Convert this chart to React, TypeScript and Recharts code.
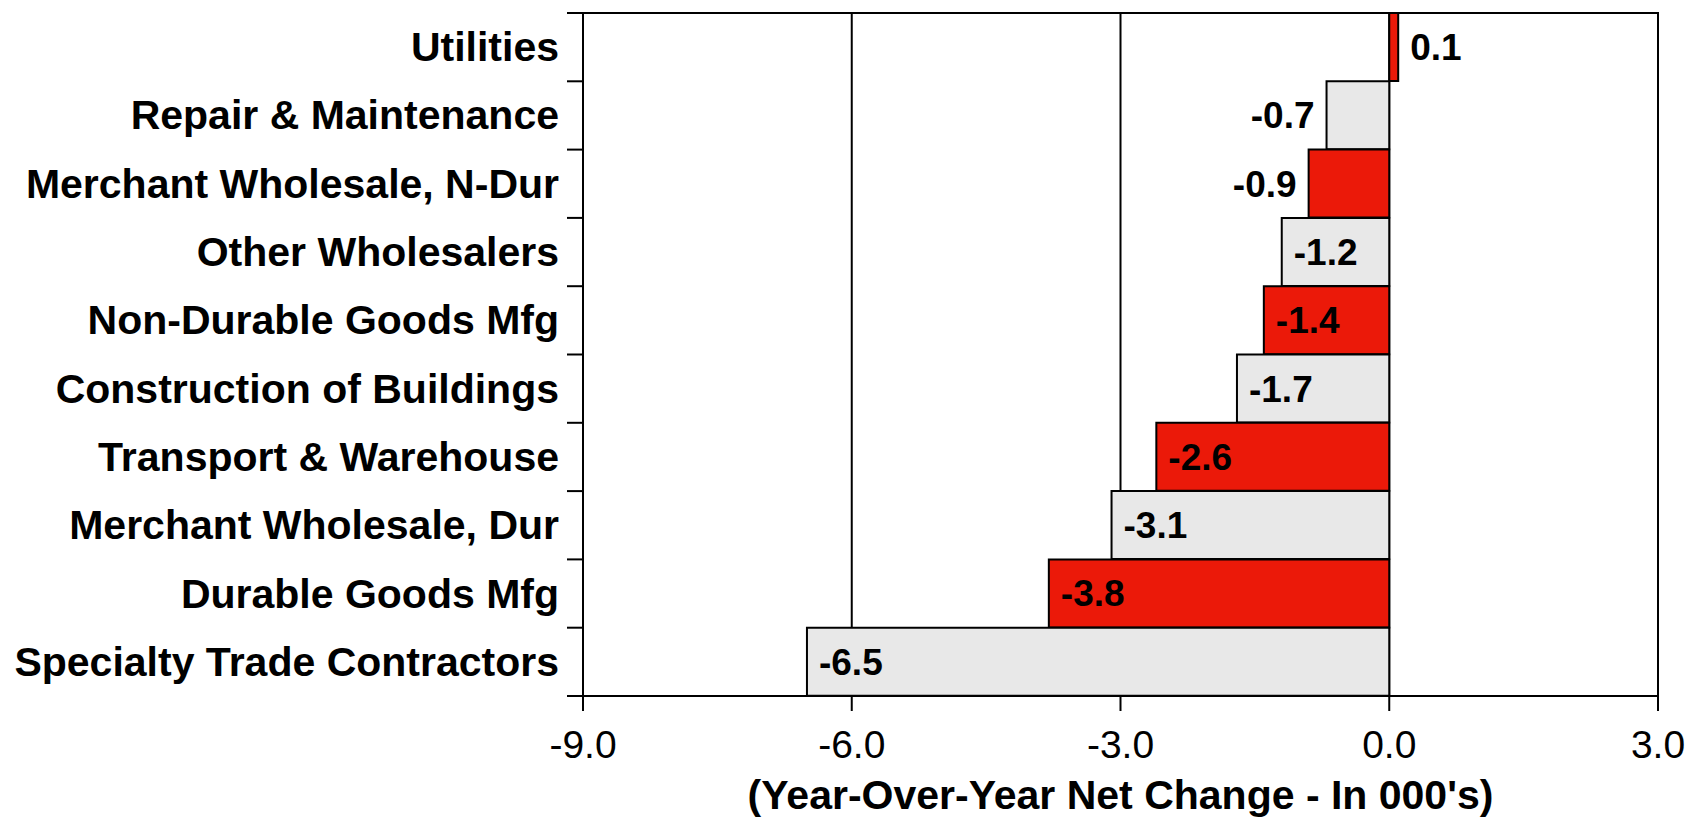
import React from "react";
import {
  BarChart,
  Bar,
  Cell,
  XAxis,
  YAxis,
  CartesianGrid,
  ReferenceArea,
  LabelList,
  Label,
} from "recharts";

const categories = [
  "Utilities",
  "Repair & Maintenance",
  "Merchant Wholesale, N-Dur",
  "Other Wholesalers",
  "Non-Durable Goods Mfg",
  "Construction of Buildings",
  "Transport & Warehouse",
  "Merchant Wholesale, Dur",
  "Durable Goods Mfg",
  "Specialty Trade Contractors",
];

const values = [0.1, -0.7, -0.9, -1.2, -1.4, -1.7, -2.6, -3.1, -3.8, -6.5];

const xTicks = [-9, -6, -3, 0, 3];

const axisTitle = "(Year-Over-Year Net Change - In 000's)";

const RED = "#EB1909";
const GREY = "#E8E8E8";
const FONT = "'Liberation Sans', Arial, sans-serif";

const W = 1693;
const H = 820;
const M = { top: 13, right: 35, bottom: 0, left: 0 };
const Y_AXIS_W = 583;
const X_AXIS_H = 124;
const BAND = (H - M.top - M.bottom - X_AXIS_H) / categories.length;

const data = categories.map((name, i) => ({ name, value: values[i] }));

function CategoryTick(props: any) {
  const { x, y, payload, index } = props;
  const half = BAND / 2;
  return (
    <g>
      <line x1={x - 16} x2={x} y1={y - half} y2={y - half} stroke="#000" strokeWidth={2} />
      {index === categories.length - 1 && (
        <line x1={x - 16} x2={x} y1={y + half} y2={y + half} stroke="#000" strokeWidth={2} />
      )}
      <text
        x={x - 24}
        y={y + 14}
        textAnchor="end"
        fontFamily={FONT}
        fontWeight="bold"
        fontSize={41}
        fill="#000"
      >
        {payload.value}
      </text>
    </g>
  );
}

function ValueLabel(props: any) {
  const { x, y, width, height, value } = props;
  const left = Math.min(x, x + width);
  const right = Math.max(x, x + width);
  const cy = y + height / 2 + 13;
  let tx = left + 12;
  let anchor: "start" | "end" = "start";
  if (value >= 0) {
    tx = right + 12;
  } else if (Math.abs(value) < 1) {
    tx = left - 12;
    anchor = "end";
  }
  return (
    <text
      x={tx}
      y={cy}
      textAnchor={anchor}
      fontFamily={FONT}
      fontWeight="bold"
      fontSize={37}
      fill="#000"
    >
      {value.toFixed(1)}
    </text>
  );
}

export default function App() {
  return (
    <div style={{ position: "absolute", left: 0, top: 0, background: "#fff" }}>
      <BarChart
        width={W}
        height={H}
        data={data}
        layout="vertical"
        margin={M}
        barCategoryGap={0}
      >
        <CartesianGrid horizontal={false} stroke="#000" strokeWidth={2} />
        <XAxis
          type="number"
          domain={[-9, 3]}
          ticks={xTicks}
          allowDataOverflow
          height={X_AXIS_H}
          tickFormatter={(v: number) => v.toFixed(1)}
          tickSize={15}
          tickMargin={19}
          axisLine={{ stroke: "#000", strokeWidth: 2 }}
          tickLine={{ stroke: "#000", strokeWidth: 2 }}
          tick={{ fill: "#000", fontSize: 39, fontFamily: FONT }}
        >
          <Label
            content={(p: any) => {
              const vb = p.viewBox;
              return (
                <text
                  x={vb.x + vb.width / 2}
                  y={vb.y + vb.height - 11}
                  textAnchor="middle"
                  fontFamily={FONT}
                  fontWeight="bold"
                  fontSize={41}
                  fill="#000"
                >
                  {axisTitle}
                </text>
              );
            }}
          />
        </XAxis>
        <YAxis
          type="category"
          dataKey="name"
          width={Y_AXIS_W}
          axisLine={{ stroke: "#000", strokeWidth: 2 }}
          tickLine={false}
          tickSize={0}
          tickMargin={0}
          interval={0}
          tick={<CategoryTick />}
        />
        <ReferenceArea
          x1={-9}
          x2={3}
          fill="none"
          stroke="#000"
          strokeWidth={2}
          ifOverflow="visible"
        />
        <Bar dataKey="value" isAnimationActive={false}>
          {data.map((d, i) => (
            <Cell
              key={d.name}
              fill={i % 2 === 0 ? RED : GREY}
              stroke="#000"
              strokeWidth={2}
            />
          ))}
          <LabelList dataKey="value" content={<ValueLabel />} />
        </Bar>
      </BarChart>
    </div>
  );
}
